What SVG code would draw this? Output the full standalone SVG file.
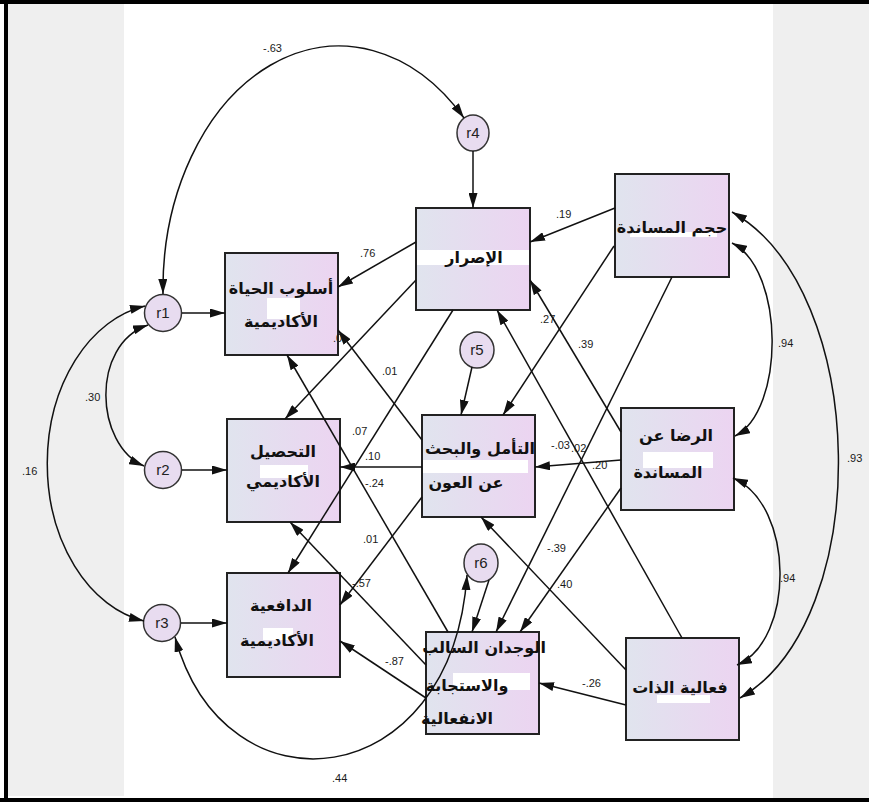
<svg xmlns="http://www.w3.org/2000/svg" width="869" height="802" viewBox="0 0 869 802">
<defs>
<linearGradient id="bx" x1="0" y1="0" x2="1" y2="0">
<stop offset="0" stop-color="#e0e4ee"/>
<stop offset="1" stop-color="#ecd4f1"/>
</linearGradient>
<marker id="ah" viewBox="0 0 15 9" refX="15" refY="4.5" markerWidth="15" markerHeight="9" markerUnits="userSpaceOnUse" orient="auto-start-reverse">
<path d="M0,0 L15,4.5 L0,9 z" fill="#111"/>
</marker>
<style>
.box{fill:url(#bx);stroke:#222;stroke-width:2}
.cir{fill:#e8dcf0;stroke:#333;stroke-width:1.5}
.hl{fill:#ffffff}
.ar{font-family:"DejaVu Sans","Noto Sans",sans-serif;font-weight:bold;font-size:16px;fill:#111;text-anchor:middle}
.rl{font-family:"Liberation Sans",Arial,sans-serif;font-size:15px;fill:#222;text-anchor:middle}
.nm{font-family:"Liberation Sans",Arial,sans-serif;font-size:11px;fill:#1a1a1a}
.ln{fill:none;stroke:#111;stroke-width:1.5;marker-end:url(#ah)}
.cv{fill:none;stroke:#111;stroke-width:1.5;marker-start:url(#ah);marker-end:url(#ah)}
</style>
</defs>
<rect x="0" y="0" width="869" height="802" fill="#ffffff"/>
<rect x="8" y="4" width="116" height="792" fill="#efefef"/>
<rect x="773" y="4" width="96" height="794" fill="#efefef"/>
<line x1="0" y1="2" x2="869" y2="2" stroke="#000" stroke-width="4"/>
<line x1="6" y1="0" x2="6" y2="802" stroke="#000" stroke-width="4"/>
<line x1="0" y1="800" x2="869" y2="800" stroke="#000" stroke-width="4"/>

<g id="A"><rect class="box" x="225" y="253" width="113" height="102"/><rect class="hl" x="267" y="298" width="33" height="21"/><text class="ar" x="281" y="294">أسلوب الحياة</text><text class="ar" x="281" y="327">الأكاديمية</text></g>
<g id="B"><rect class="box" x="416" y="208" width="114" height="102"/><rect class="hl" x="417" y="250" width="112" height="15"/><text class="ar" x="474" y="263">الإصرار</text></g>
<g id="C"><rect class="box" x="615" y="174" width="114" height="103"/><rect class="hl" x="630" y="232" width="87" height="5"/><text class="ar" x="672" y="233">حجم المساندة</text></g>
<g id="D"><rect class="box" x="227" y="419" width="113" height="103"/><rect class="hl" x="260" y="465" width="48" height="13"/><text class="ar" x="283" y="457">التحصيل</text><text class="ar" x="283" y="487">الأكاديمي</text></g>
<g id="E"><rect class="box" x="422" y="415" width="113" height="102"/><rect class="hl" x="423" y="460" width="105" height="13"/><text class="ar" x="480" y="454">التأمل والبحث</text><text class="ar" x="466" y="488">عن العون</text></g>
<g id="F"><rect class="box" x="621" y="408" width="113" height="102"/><rect class="hl" x="643" y="452" width="70" height="16"/><text class="ar" x="676" y="441">الرضا عن</text><text class="ar" x="668" y="478">المساندة</text></g>
<g id="G"><rect class="box" x="227" y="573" width="113" height="104"/><rect class="hl" x="263" y="628" width="30" height="12"/><text class="ar" x="281" y="611">الدافعية</text><text class="ar" x="277" y="646">الأكاديمية</text></g>
<g id="H"><rect class="box" x="426" y="632" width="113" height="102"/><rect class="hl" x="453" y="673" width="77" height="17"/><text class="ar" x="484" y="653">الوجدان السالب</text><text class="ar" x="467" y="691">والاستجابة</text><text class="ar" x="457" y="724">الانفعالية</text></g>
<g id="I"><rect class="box" x="626" y="638" width="113" height="102"/><rect class="hl" x="657" y="695" width="53" height="8"/><text class="ar" x="680" y="693">فعالية الذات</text></g>
<g id="r1"><circle class="cir" cx="163" cy="313" r="18.5"/><text class="rl" x="163" y="318">r1</text></g>
<g id="r2"><circle class="cir" cx="163" cy="470" r="18.5"/><text class="rl" x="163" y="475">r2</text></g>
<g id="r3"><circle class="cir" cx="162" cy="623" r="18.5"/><text class="rl" x="162" y="628">r3</text></g>
<g id="r4"><ellipse class="cir" cx="473" cy="133" rx="16" ry="18"/><text class="rl" x="473" y="138">r4</text></g>
<g id="r5"><ellipse class="cir" cx="477" cy="350" rx="17" ry="18"/><text class="rl" x="477" y="355">r5</text></g>
<g id="r6"><ellipse class="cir" cx="481" cy="563" rx="17" ry="19"/><text class="rl" x="481" y="568">r6</text></g>

<g id="connectors">
<line class="ln" x1="473" y1="151" x2="473" y2="208"/>
<line class="ln" x1="472" y1="367" x2="461" y2="415"/>
<line class="ln" x1="489" y1="580" x2="472" y2="632"/>
<line class="ln" x1="182" y1="313" x2="225" y2="313"/>
<line class="ln" x1="182" y1="470" x2="227" y2="470"/>
<line class="ln" x1="181" y1="623" x2="227" y2="623"/>
<line class="ln" x1="416" y1="242" x2="338" y2="287"/>
<line class="ln" x1="615" y1="208" x2="530" y2="242"/>
<line class="ln" x1="416" y1="280" x2="285" y2="419"/>
<line class="ln" x1="453" y1="310" x2="288" y2="573"/>
<line class="ln" x1="422" y1="440" x2="338" y2="330"/>
<line class="ln" x1="422" y1="467" x2="340" y2="467"/>
<line class="ln" x1="422" y1="497" x2="340" y2="605"/>
<line class="ln" x1="448" y1="632" x2="287" y2="355"/>
<line class="ln" x1="426" y1="665" x2="290" y2="522"/>
<line class="ln" x1="426" y1="698" x2="340" y2="641"/>
<line class="ln" x1="614" y1="246" x2="503" y2="415"/>
<line class="ln" x1="672" y1="277" x2="496" y2="632"/>
<line class="ln" x1="621" y1="432" x2="530" y2="280"/>
<line class="ln" x1="621" y1="460" x2="535" y2="467"/>
<line class="ln" x1="621" y1="488" x2="520" y2="632"/>
<line class="ln" x1="682" y1="638" x2="497" y2="310"/>
<line class="ln" x1="626" y1="670" x2="481" y2="517"/>
<line class="ln" x1="626" y1="705" x2="539" y2="683"/>
<path class="cv" d="M163,294 A176 243 0 0 1 464,118"/>
<path class="cv" d="M148,325 C90,345 95,445 144,466"/>
<path class="cv" d="M145,306 A118 160 0 0 0 144,621"/>
<path class="cv" d="M175,637 C225,820 452,795 467,575"/>
<path class="cv" d="M732,243 C785,270 785,410 735,436"/>
<path class="cv" d="M732,212 C870,290 875,620 740,698"/>
<path class="cv" d="M733,478 C795,505 795,640 737,665"/>
</g>

<g id="labels">
<text class="nm" x="263" y="52">-.63</text>
<text class="nm" x="360" y="257">.76</text>
<text class="nm" x="556" y="218">.19</text>
<text class="nm" x="540" y="323">.27</text>
<text class="nm" x="578" y="348">.39</text>
<text class="nm" x="778" y="347">.94</text>
<text class="nm" x="847" y="462">.93</text>
<text class="nm" x="780" y="582">.94</text>
<text class="nm" x="85" y="401">.30</text>
<text class="nm" x="22" y="475">.16</text>
<text class="nm" x="333" y="342">.0</text>
<text class="nm" x="382" y="375">.01</text>
<text class="nm" x="352" y="435">.07</text>
<text class="nm" x="365" y="460">.10</text>
<text class="nm" x="365" y="487">-.24</text>
<text class="nm" x="363" y="543">.01</text>
<text class="nm" x="352" y="587">-.57</text>
<text class="nm" x="385" y="665">-.87</text>
<text class="nm" x="582" y="687">-.26</text>
<text class="nm" x="332" y="782">.44</text>
<text class="nm" x="547" y="552">-.39</text>
<text class="nm" x="557" y="588">.40</text>
<text class="nm" x="551" y="449">-.03</text>
<text class="nm" x="571" y="452">.02</text>
<text class="nm" x="592" y="469">.20</text>
</g>
</svg>
